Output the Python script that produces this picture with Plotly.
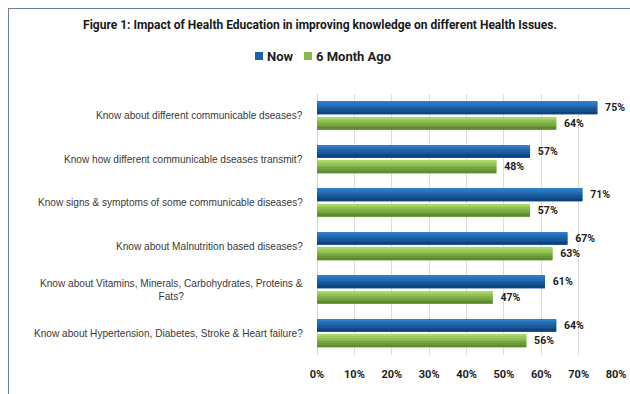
import plotly.graph_objects as go

categories = [
    "Know about different communicable dseases?",
    "Know how different communicable dseases transmit?",
    "Know signs & symptoms of some communicable diseases?",
    "Know about Malnutrition based diseases?",
    "Know about Vitamins, Minerals, Carbohydrates, Proteins &<br>Fats?",
    "Know about Hypertension, Diabetes, Stroke & Heart failure?",
]
series_names = ["Now", "6 Month Ago"]
now_vals = [75, 57, 71, 67, 61, 64]
ago_vals = [64, 48, 57, 63, 47, 56]
x_ticks = [0, 10, 20, 30, 40, 50, 60, 70, 80]
x_tick_labels = [f"{v}%" for v in x_ticks]

W, H = 630, 394
L, R, T, B = 317, 14, 94, 39
PW, PH = W - L - R, H - T - B

BOLD = "Roboto, Liberation Sans, sans-serif"
SANS = "Liberation Sans, Arial, sans-serif"


def px_x(px):
    return (px - L) / PW


def px_y(py):
    return 1 + (T - py) / PH


def hex_mix(c0, c1, t):
    a = [int(c0[i:i + 2], 16) for i in (1, 3, 5)]
    b = [int(c1[i:i + 2], 16) for i in (1, 3, 5)]
    return "#" + "".join(f"{round(x + (y - x) * t):02x}" for x, y in zip(a, b))


ids = list(range(len(categories)))
BAR_W = 0.287
STRIPS = 7
series = [
    # name, values, offset, top colour, bottom colour, mid colour
    (series_names[0], now_vals, -0.322, "#2f7ecb", "#0d437e", "#1c61aa"),
    (series_names[1], ago_vals, 0.034, "#a8da68", "#5c8c2d", "#82bb4a"),
]

fig = go.Figure()
for name, vals, off, c_top, c_bot, c_mid in series:
    # base bar carries the value label
    fig.add_trace(go.Bar(
        name=name, y=ids, x=vals, orientation="h",
        offset=off, width=BAR_W, marker=dict(color=c_mid, line=dict(width=0)),
        text=[f"\u00a0\u2009{v}%" for v in vals], textposition="outside",
        textfont=dict(family=BOLD, size=11, color="#1e1e1e", weight="bold"),
        cliponaxis=False, showlegend=False,
    ))
    # shaded strips: lighter at the top edge, darker at the bottom
    sw = BAR_W / STRIPS
    for k in range(STRIPS):
        fig.add_trace(go.Bar(
            name=name, y=ids, x=vals, orientation="h",
            offset=off + k * sw, width=sw * 1.02,
            marker=dict(color=hex_mix(c_top, c_bot, k / (STRIPS - 1)), line=dict(width=0)),
            showlegend=False, hoverinfo="skip",
        ))

# category labels as annotations so wrapped lines centre under each other
for i, c in enumerate(categories):
    fig.add_annotation(
        x=px_x(305), xref="paper", xanchor="right",
        y=i, yref="y", yanchor="middle",
        text=c, showarrow=False, align="center",
        font=dict(family=SANS, size=10.1, color="#3a3a3a"),
    )

# legend: small square swatches followed by bold names
legend_items = [(255, series_names[0], "#1c61aa"), (304, series_names[1], "#82bb4a")]
for x0, name, col in legend_items:
    fig.add_shape(type="rect", xref="paper", yref="paper",
                  x0=px_x(x0), x1=px_x(x0 + 8), y0=px_y(60), y1=px_y(52),
                  fillcolor=col, line=dict(width=0))
    fig.add_annotation(x=px_x(x0 + 10), xref="paper", xanchor="left",
                       y=px_y(56), yref="paper", yanchor="middle",
                       text=f"<b>{name}</b>", showarrow=False,
                       font=dict(family=BOLD, size=13, color="#1e1e1e"))

# outer frame: thin filled strips along the top and left edges
FRAME = "#6f7d95"
fig.add_shape(type="rect", xref="paper", yref="paper",
              x0=px_x(8), x1=px_x(W), y0=px_y(9), y1=px_y(8),
              fillcolor=FRAME, line=dict(width=0))
fig.add_shape(type="rect", xref="paper", yref="paper",
              x0=px_x(8), x1=px_x(9), y0=px_y(H), y1=px_y(8),
              fillcolor=FRAME, line=dict(width=0))

fig.update_layout(
    width=W, height=H,
    margin=dict(l=L, r=R, t=T, b=B, pad=0, autoexpand=False),
    paper_bgcolor="white", plot_bgcolor="white",
    barmode="overlay",
    showlegend=False,
    title=dict(
        text="<b>Figure 1: Impact of Health Education in improving knowledge on different Health Issues.</b>",
        x=320 / W, xref="container", xanchor="center",
        y=1 - 25 / H, yref="container", yanchor="middle",
        font=dict(family=BOLD, size=12, color="#1a1a1a"),
    ),
    xaxis=dict(
        range=[0, 80], tickvals=x_ticks, ticktext=x_tick_labels,
        showgrid=True, gridcolor="#dcdcdc", gridwidth=1,
        zeroline=True, zerolinecolor="#d4d4d4", zerolinewidth=1,
        showline=False, ticks="", ticklabelstandoff=11, automargin=False,
        tickfont=dict(family=BOLD, size=11, color="#1e1e1e", weight="bold"),
    ),
    yaxis=dict(
        range=[len(categories) - 0.5, -0.5], showticklabels=False,
        showgrid=False, zeroline=False, showline=False, ticks="", automargin=False,
    ),
)

fig.write_html("out.html")
